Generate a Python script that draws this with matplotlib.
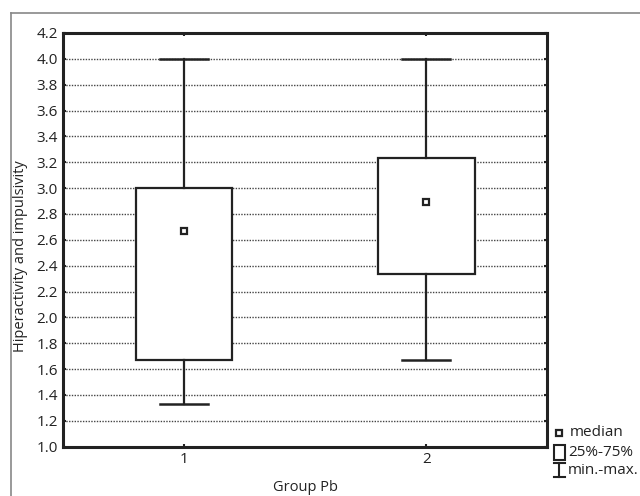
import matplotlib.pyplot as plt
from matplotlib.lines import Line2D
from matplotlib.patches import Rectangle

plt.rcParams['font.family'] = ['Open Sans', 'DejaVu Sans']

# data
groups = [1, 2]
minimum = [1.333, 1.667]
q1 = [1.667, 2.333]
median = [2.667, 2.889]
q3 = [3.0, 3.23]
maximum = [4.0, 4.0]

stats = []
for i in range(len(groups)):
    stats.append({'whislo': minimum[i], 'q1': q1[i], 'med': median[i],
                  'q3': q3[i], 'whishi': maximum[i], 'label': str(groups[i])})

fig = plt.figure(figsize=(6.4, 4.96), dpi=100)
ax = fig.add_axes([0.0984, 0.0994, 0.7566, 0.8341])

ax.bxp(stats, positions=groups, widths=0.4, capwidths=0.2, showfliers=False,
       patch_artist=True,
       boxprops=dict(facecolor='white', edgecolor='#222222', linewidth=1.6),
       whiskerprops=dict(color='#222222', linewidth=1.6),
       capprops=dict(color='#222222', linewidth=1.8),
       medianprops=dict(linewidth=0),
       zorder=3)
ax.plot(groups, median, linestyle='none', marker='s', markersize=5,
        markerfacecolor='white', markeredgecolor='#222222', markeredgewidth=1.6,
        zorder=4)

ax.set_xlim(0.5, 2.5)
ax.set_ylim(1.0, 4.2)
ax.set_yticks([1.0 + 0.2 * k for k in range(17)])
ax.set_yticklabels(['%.1f' % (1.0 + 0.2 * k) for k in range(17)])
ax.set_xticks(groups)
ax.set_xticklabels([str(g) for g in groups])
ax.tick_params(direction='in', length=2, width=1.5, top=True, right=True,
               labelsize=11, colors='#222222')
ax.yaxis.grid(True, linestyle=(0, (1, 1)), color='#444444', linewidth=1.0)
ax.set_axisbelow(True)
for s in ax.spines.values():
    s.set_linewidth(2.2)
    s.set_color('#222222')

ax.set_xlabel('Group Pb', fontsize=10.5, color='#222222', labelpad=10)
ax.set_ylabel('Hiperactivity and impulsivity', fontsize=10.5, color='#222222')
ax.yaxis.set_label_coords(-0.073, 0.46)

# outer frame (top and left edges)
fig.add_artist(Line2D([11 / 640, 1.0], [1 - 13 / 496, 1 - 13 / 496],
                      transform=fig.transFigure, color='#888888', linewidth=1.2))
fig.add_artist(Line2D([11 / 640, 11 / 640], [0.0, 1 - 13 / 496],
                      transform=fig.transFigure, color='#888888', linewidth=1.2))

# legend
fig.add_artist(Line2D([559 / 640], [1 - 433 / 496], transform=fig.transFigure,
                      marker='s', markersize=4, markerfacecolor='white',
                      markeredgecolor='#222222', markeredgewidth=1.6, linestyle='none'))
fig.add_artist(Rectangle((553.5 / 640, 1 - 460 / 496), 11 / 640, 15 / 496,
                         transform=fig.transFigure, facecolor='white',
                         edgecolor='#222222', linewidth=1.5))
xw = 559 / 640
fig.add_artist(Line2D([xw, xw], [1 - 463 / 496, 1 - 477 / 496],
                      transform=fig.transFigure, color='#222222', linewidth=1.5))
fig.add_artist(Line2D([554 / 640, 565 / 640], [1 - 463 / 496, 1 - 463 / 496],
                      transform=fig.transFigure, color='#222222', linewidth=1.5))
fig.add_artist(Line2D([554 / 640, 565 / 640], [1 - 477 / 496, 1 - 477 / 496],
                      transform=fig.transFigure, color='#222222', linewidth=1.5))
for txt, x, y in [('median', 570, 433), ('25%-75%', 568, 452), ('min.-max.', 568, 470)]:
    fig.text(x / 640, 1 - y / 496, txt, fontsize=11, color='#222222',
             va='center', ha='left')

fig.savefig('out.png', dpi=100)
